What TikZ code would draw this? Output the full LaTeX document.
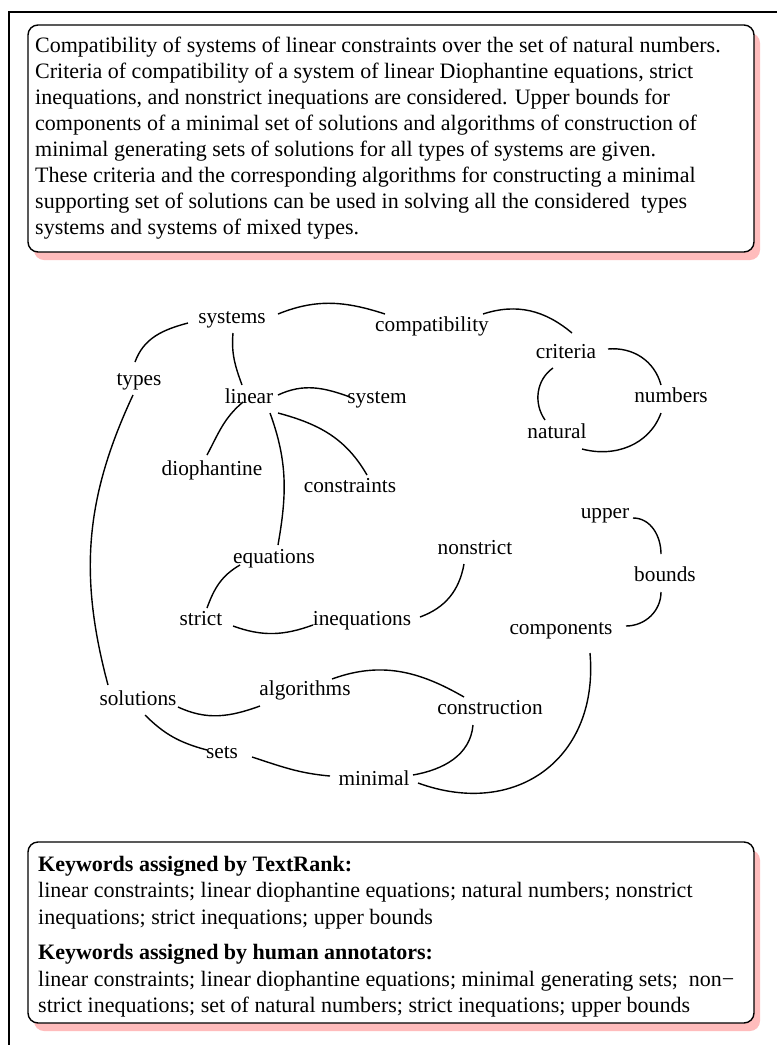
\documentclass[tikz,border=0pt]{standalone}
\usepackage{fontspec}
\setmainfont{Liberation Serif}
\usetikzlibrary{shadows}
\definecolor{shpink}{RGB}{255,188,188}
\begin{document}
\begin{tikzpicture}[x=1pt,y=1pt,
  word/.style={font=\fontsize{21.3}{25.9}\selectfont, inner sep=0pt, text height=15.3pt, text depth=4.7pt},
  link/.style={line width=1.4pt, black},
  panel/.style={draw, line width=1.4pt, rounded corners=10pt, fill=white,
    drop shadow={shadow xshift=6pt, shadow yshift=-8pt, fill=shpink, opacity=1}},
  boxtext/.style={inner sep=0pt, align=left, anchor=north west}
]
\useasboundingbox (0,0) rectangle (777,-1045);
\fill[white] (0,0) rectangle (777,-1045);
\draw[line width=2pt] (9,-1045) -- (9,-12) -- (777,-12);

% abstract box
\path[panel] (28,-25) rectangle (754,-252);
\node[boxtext, font=\fontsize{22}{26}\selectfont] (abstract) at (35,-37) {Compatibility of systems of linear constraints over the set of natural numbers.\\
Criteria of compatibility of a system of linear Diophantine equations, strict\\
inequations, and nonstrict inequations are considered. Upper bounds for\\
components of a minimal set of solutions and algorithms of construction of\\
minimal generating sets of solutions for all types of systems are given.\\
These criteria and the corresponding algorithms for constructing a minimal\\
supporting set of solutions can be used in solving all the considered\ \ types\\
systems and systems of mixed types.};

% keywords box
\path[panel] (28,-842) rectangle (754,-1023);
\node[boxtext, font=\fontsize{22}{26.5}\selectfont] (keywords) at (38,-856) {\textbf{Keywords assigned by TextRank:}\\
linear constraints; linear diophantine equations; natural numbers; nonstrict\\
inequations; strict inequations; upper bounds\\[9pt]
\textbf{Keywords assigned by human annotators:}\\
linear constraints; linear diophantine equations; minimal generating sets;\ \ non−\\
strict inequations; set of natural numbers; strict inequations; upper bounds};

% graph words
\node[word] (systems) at (232,-318) {systems};
\node[word] (compat) at (432,-326) {compatibility};
\node[word] (criteria) at (566,-353) {criteria};
\node[word] (types) at (139,-380) {types};
\node[word] (linear) at (249,-398) {linear};
\node[word] (system) at (377,-398) {system};
\node[word] (numbers) at (671,-397) {numbers};
\node[word] (natural) at (557,-433) {natural};
\node[word] (dioph) at (212,-470) {diophantine};
\node[word] (constraints) at (350,-487) {constraints};
\node[word] (upper) at (605,-513) {upper};
\node[word] (nonstrict) at (475,-549) {nonstrict};
\node[word] (equations) at (274,-558) {equations};
\node[word] (bounds) at (665,-576) {bounds};
\node[word] (strict) at (201,-620) {strict};
\node[word] (inequations) at (362,-620) {inequations};
\node[word] (components) at (561,-629) {components};
\node[word] (solutions) at (138,-700) {solutions};
\node[word] (algorithms) at (305,-690) {algorithms};
\node[word] (construction) at (490,-709) {construction};
\node[word] (sets) at (222,-753) {sets};
\node[word] (minimal) at (374,-780) {minimal};

% connectors
\draw[link] ([shift={(-4,18)}]types.center) to[out=70,in=195] ([shift={(-44,-5)}]systems.center);
\draw[link] ([shift={(46,4)}]systems.center) to[out=22,in=162] ([shift={(-47,12)}]compat.center);
\draw[link] ([shift={(51,12)}]compat.center) to[out=18,in=140] ([shift={(6,20)}]criteria.center);
\draw[link] ([shift={(1,-15)}]systems.center) to[out=265,in=110] ([shift={(-7,13)}]linear.center);
\draw[link] ([shift={(29,3)}]linear.center) to[out=25,in=160] ([shift={(-27,1)}]system.center);
\draw[link] ([shift={(-6,-4)}]linear.center) to[out=220,in=62] ([shift={(-5,15)}]dioph.center);
\draw[link] ([shift={(29,-15)}]linear.center) to[out=-15,in=120] ([shift={(17,12)}]constraints.center);
\draw[link] ([shift={(21,-15)}]linear.center) to[out=-70,in=80] ([shift={(4,13)}]equations.center);
\draw[link] ([shift={(-34,-7)}]equations.center) to[out=210,in=70] ([shift={(6,12)}]strict.center);
\draw[link] ([shift={(32,-6)}]strict.center) to[out=-20,in=200] ([shift={(-49,-5)}]inequations.center);
\draw[link] ([shift={(58,3)}]inequations.center) to[out=20,in=260] ([shift={(-11,-15)}]nonstrict.center);
\draw[link] ([shift={(-13,-15)}]criteria.center) to[out=215,in=125] ([shift={(-12,13)}]natural.center);
\draw[link] ([shift={(42,4)}]criteria.center) to[out=5,in=105] ([shift={(-10,12)}]numbers.center);
\draw[link] ([shift={(25,-16)}]natural.center) to[out=-15,in=250] ([shift={(-10,-16)}]numbers.center);
\draw[link] ([shift={(28,-5)}]upper.center) to[out=0,in=90] ([shift={(-4,22)}]bounds.center);
\draw[link] ([shift={(-4,-16)}]bounds.center) to[out=270,in=0] ([shift={(65,3)}]components.center);
\draw[link] ([shift={(29,-24)}]components.center) to[out=275,in=340,looseness=1.25] ([shift={(44,-3)}]minimal.center);
\draw[link] ([shift={(-6,-15)}]types.center) to[out=245,in=105] ([shift={(-30,15)}]solutions.center);
\draw[link] ([shift={(40,-7)}]solutions.center) to[out=-25,in=200] ([shift={(-45,-16)}]algorithms.center);
\draw[link] ([shift={(27,11)}]algorithms.center) to[out=20,in=150] ([shift={(-26,12)}]construction.center);
\draw[link] ([shift={(7,-15)}]solutions.center) to[out=-45,in=165] ([shift={(-15,3)}]sets.center);
\draw[link] ([shift={(30,-4)}]sets.center) to[out=-18,in=175] ([shift={(-44,4)}]minimal.center);
\draw[link] ([shift={(-17,-16)}]construction.center) to[out=265,in=10] ([shift={(39,5)}]minimal.center);
\end{tikzpicture}
\end{document}
